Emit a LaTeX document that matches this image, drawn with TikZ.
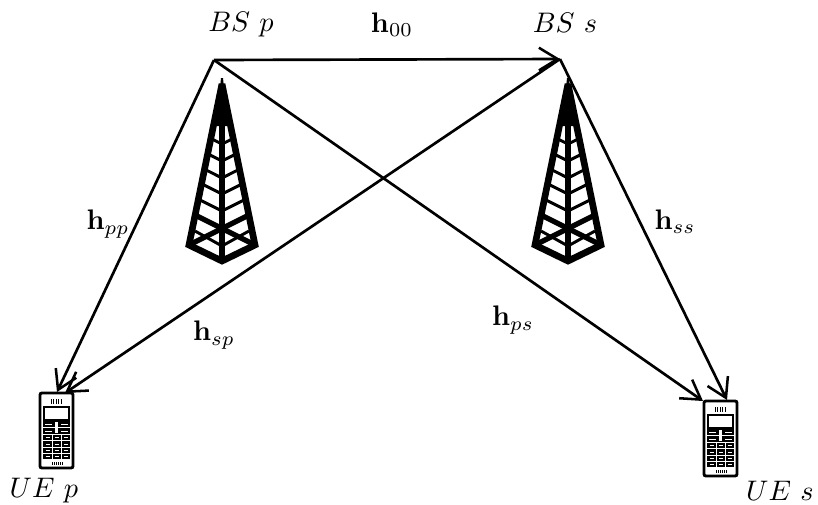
\documentclass[tikz,border=0pt]{standalone}
\usepackage{amsmath}
\usetikzlibrary{arrows.meta}
\tikzset{
  link/.style={line width=2pt,-{Straight Barb[length=14pt,width=17pt,line width=1.9pt]}},
  lab/.style={scale=2.12,inner sep=0pt,text=black},
  tw/.style={line width=5pt,line join=miter,miter limit=4},
  tm/.style={line width=4pt},
  tt/.style={line width=2.2pt},
  pics/tower/.style={code={
    % origin = apex
    \fill (-1,-6) -- (-6,42) -- (6,42) -- (1,-6) -- cycle;
    \foreach \yy/\dx/\dy in {60/11.7/5.8, 77/15/7.5, 94/18.3/9.2, 110/21.4/10.7, 127/24.8/12.4, 162/27/15}{
      \draw[tt] (-\dx,\yy-\dy) -- (0,\yy) -- (\dx,\yy-\dy);
    }
    \draw[tm] (-33,161) -- (27,131);
    \draw[tm] (33,161) -- (-27,131);
    \draw[tm] (0,0) -- (0,177);
    \draw[tw] (0,0) -- (-33,161) -- (0,177) -- (33,161) -- cycle;
  }},
  pics/phone/.style={code={
    % origin = top-left corner
    \draw[line width=2.2pt,rounded corners=1.5pt,fill=white] (0,0) rectangle (33,75);
    \fill (3,28) rectangle (30,66);
    \draw[line width=1.4pt] (4,14) rectangle (29,27);
    \foreach \xx in {11,13.5,...,22}{\draw[line width=.6pt] (\xx,6) -- (\xx,11);}
    \foreach \xx in {12,14,...,22}{\draw[line width=.6pt] (\xx,69) -- (\xx,72);}
    \fill[white] (15,29) rectangle (18,40);
    \draw[white,line width=.7pt] (3,34.5) -- (15,34.5) (18,34.5) -- (30,34.5) (3,41) -- (30,41) (3,47.5) -- (30,47.5) (3,54) -- (30,54) (3,60.5) -- (30,60.5);
    \draw[white,line width=.7pt] (12.5,41) -- (12.5,66) (21,41) -- (21,66);
    \foreach \yy in {44,51,57,63}{\foreach \xx in {7.5,16.5,25.5}{\draw[white,line width=.5pt] (\xx-2,\yy) -- (\xx+2,\yy);}}
    \foreach \yy in {31.5,38}{\draw[white,line width=.5pt] (5,\yy) -- (12,\yy) (21,\yy) -- (28,\yy);}
  }}
}
\begin{document}
\begin{tikzpicture}[x=0.75pt,y=-0.75pt]
\useasboundingbox (0,0) rectangle (818,504);
\pic at (222,84) {tower};
\pic at (568,84) {tower};
\pic at (40,393) {phone};
\pic at (704,401) {phone};
\coordinate (bsp) at (214,60);
\coordinate (bss) at (560,59);
\coordinate (uepa) at (57,392);
\coordinate (uepb) at (65,393);
\coordinate (uesa) at (703,401);
\coordinate (uesb) at (727,400);
\draw[link] (bsp) -- (bss);
\draw[link] (bsp) -- (uepa);
\draw[link] (bsp) -- (uesa);
\draw[link] (bss) -- (uesb);
\draw[link] (bss) -- (uepb);
\node[lab] (lbsp) at (241,25) {$BS\ p$};
\node[lab] (lbss) at (565,23) {$BS\ s$};
\node[lab] (luep) at (44,491) {$UE\ p$};
\node[lab] (lues) at (780,491) {$UE\ s$};
\node[lab] (h00) at (392,25) {$\mathbf{h}_{00}$};
\node[lab] (hpp) at (108,224) {$\mathbf{h}_{pp}$};
\node[lab] (hsp) at (214,335) {$\mathbf{h}_{sp}$};
\node[lab] (hps) at (513,320) {$\mathbf{h}_{ps}$};
\node[lab] (hss) at (675,222) {$\mathbf{h}_{ss}$};
\end{tikzpicture}
\end{document}
